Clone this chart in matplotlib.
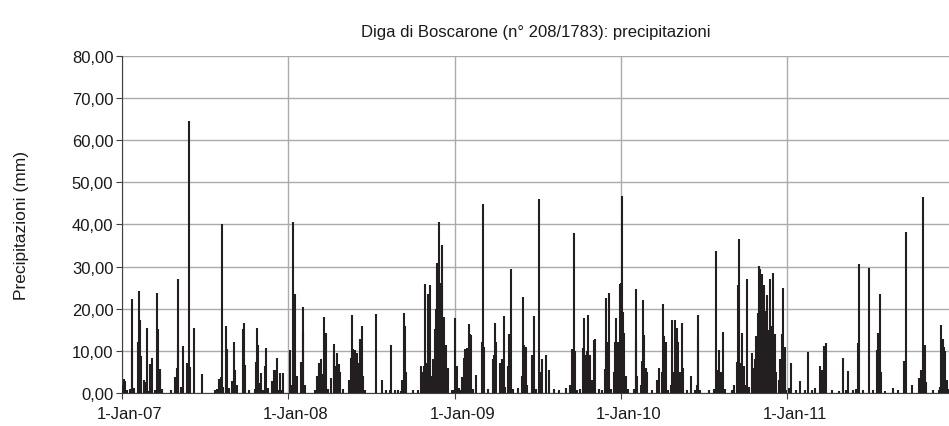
import numpy as np
import pandas as pd
import matplotlib
matplotlib.use("Agg")
import matplotlib.pyplot as plt
import matplotlib.dates as mdates
import matplotlib.transforms as mtransforms
from matplotlib.ticker import FuncFormatter, MultipleLocator

plt.rcParams['font.family'] = ['Liberation Sans', 'DejaVu Sans']

# giorni dal 1-Jan-2007 e precipitazione giornaliera (mm)
giorni_2007 = [2, 6, 8, 12, 18, 22, 23, 28, 35, 38, 40, 42, 48, 50, 52, 55, 58, 63, 66, 72,
               77, 79, 81, 84, 85, 88, 108, 118, 121, 123, 124, 130, 135, 143, 145, 148, 151,
               158, 177, 205, 210, 214, 216, 218, 220, 222, 228, 230, 232, 236, 242, 246, 249,
               252, 266, 267, 269, 271, 280, 292, 295, 297, 299, 303, 306, 310, 315, 317, 321,
               329, 334, 338, 341, 344, 347, 352, 355]
mm_2007 = [1.8, 3.4, 2.8, 0.8, 1.0, 22.4, 10.0, 1.2, 12.0, 24.1, 17.4, 8.8, 0.6, 3.0, 2.6, 15.3,
           0.4, 6.9, 8.3, 0.8, 23.7, 15.1, 5.0, 4.6, 5.7, 1.0, 0.8, 3.7, 6.0, 11.4, 27.0, 1.5,
           11.2, 7.1, 6.5, 64.6, 6.1, 15.3, 4.5, 0.6, 1.0, 3.4, 3.0, 3.7, 40.2, 1.5, 2.5, 15.8,
           10.4, 1.2, 2.8, 12.1, 5.5, 2.0, 1.0, 15.1, 16.5, 6.6, 0.6, 1.0, 7.4, 15.5, 11.4, 2.4,
           4.8, 0.8, 6.5, 10.7, 1.2, 2.8, 5.4, 5.5, 8.2, 0.8, 4.7, 0.8, 4.8]

giorni_2008 = [369, 372, 375, 378, 380, 384, 393, 397, 399, 402, 425, 429, 432, 434, 437, 441,
               444, 446, 448, 452, 460, 465, 467, 469, 472, 476, 480, 485, 500, 503, 505, 508,
               512, 517, 520, 524, 527, 530, 534, 559, 572, 581, 588, 592, 600, 606, 612, 616,
               619, 622, 625, 640, 650, 658, 661, 664, 666, 669, 672, 676, 680, 684, 688, 690,
               692, 694, 696, 698, 700, 702, 704, 706, 708, 711, 716, 724, 728]
mm_2008 = [10.2, 2.0, 40.6, 10.0, 23.4, 4.1, 7.3, 20.3, 14.4, 2.0, 0.8, 4.0, 5.5, 7.0, 8.0, 4.4,
           18.1, 12.1, 14.2, 1.0, 3.5, 9.0, 11.7, 6.5, 9.6, 6.9, 5.0, 1.0, 3.0, 8.2, 18.5, 10.4,
           10.3, 9.5, 7.1, 12.9, 15.9, 4.1, 0.6, 18.7, 3.0, 0.6, 0.8, 11.4, 0.8, 0.6, 0.5, 3.0,
           19.0, 15.8, 4.9, 0.6, 0.8, 6.5, 5.0, 6.5, 25.9, 7.0, 23.4, 25.6, 4.0, 8.0, 15.1, 20.0,
           30.9, 22.0, 40.6, 26.2, 15.0, 35.0, 26.2, 12.0, 18.1, 11.5, 6.0, 0.6, 0.8]

giorni_2009 = [731, 736, 740, 744, 748, 751, 754, 757, 762, 764, 767, 771, 777, 791, 793, 795,
               805, 815, 818, 820, 822, 830, 835, 839, 842, 848, 851, 854, 858, 870, 878, 881,
               883, 887, 890, 900, 906, 910, 915, 918, 922, 932, 938, 950, 960, 975, 985, 989,
               992, 995, 1000, 1005, 1012, 1015, 1018, 1021, 1024, 1027, 1033, 1037, 1040, 1048,
               1055, 1061, 1064, 1066, 1069, 1074, 1080, 1083, 1085, 1087, 1090, 1093]
mm_2009 = [17.7, 6.5, 1.2, 0.8, 3.7, 8.4, 10.4, 10.7, 16.3, 14.0, 13.8, 1.0, 4.3, 12.0, 44.9,
           10.8, 1.0, 8.0, 9.0, 16.7, 12.0, 7.1, 8.0, 18.3, 1.5, 6.5, 13.9, 29.3, 1.0, 1.2, 4.0,
           22.8, 11.4, 11.0, 2.0, 9.1, 18.3, 1.0, 45.9, 5.0, 8.0, 9.0, 5.5, 1.0, 0.8, 1.2, 2.0,
           10.4, 37.9, 10.0, 0.8, 1.0, 10.6, 17.7, 9.0, 10.0, 18.5, 9.0, 3.0, 12.6, 12.8, 1.0,
           0.8, 5.8, 22.6, 12.0, 23.6, 1.0, 5.0, 12.0, 17.9, 10.8, 12.0, 25.8]

giorni_2010 = [1096, 1099, 1101, 1103, 1106, 1112, 1125, 1128, 1130, 1132, 1140, 1143, 1145,
               1147, 1150, 1154, 1165, 1176, 1179, 1185, 1189, 1191, 1194, 1200, 1205, 1208,
               1210, 1214, 1218, 1222, 1226, 1230, 1233, 1240, 1250, 1258, 1262, 1264, 1266,
               1270, 1290, 1300, 1305, 1308, 1311, 1316, 1320, 1324, 1340, 1345, 1350, 1353,
               1356, 1359, 1362, 1365, 1368, 1373, 1376, 1384, 1387, 1390, 1393, 1396, 1399,
               1402, 1406, 1409, 1413, 1417, 1420, 1424, 1427, 1430, 1433, 1436, 1443, 1446,
               1449, 1452, 1455, 1458]
mm_2010 = [26.0, 46.7, 19.3, 14.2, 4.0, 1.0, 1.0, 12.6, 24.6, 4.0, 2.0, 7.5, 22.1, 13.7, 6.0,
           5.0, 0.8, 3.0, 6.0, 5.0, 21.1, 13.6, 12.0, 0.8, 2.0, 17.3, 5.0, 17.3, 15.3, 12.1, 5.0,
           16.7, 6.0, 0.8, 4.1, 0.8, 2.0, 13.4, 18.5, 0.6, 0.8, 1.0, 33.7, 5.5, 10.3, 5.0, 14.4,
           1.0, 0.8, 2.0, 7.3, 25.6, 36.6, 7.0, 14.2, 6.5, 2.0, 27.0, 1.5, 9.5, 6.0, 8.0, 13.6,
           19.0, 30.1, 29.5, 28.3, 25.5, 19.5, 23.3, 15.0, 27.1, 16.0, 28.4, 14.0, 5.0, 3.0, 8.0,
           14.0, 24.9, 11.0, 0.6]

giorni_2011 = [1465, 1470, 1480, 1489, 1500, 1506, 1515, 1522, 1532, 1537, 1541, 1544, 1547,
               1560, 1575, 1583, 1590, 1594, 1605, 1612, 1616, 1619, 1628, 1641, 1650, 1657,
               1660, 1664, 1667, 1675, 1694, 1705, 1718, 1721, 1734, 1750, 1754, 1758, 1759,
               1763, 1765, 1780, 1795, 1797, 1799, 1802, 1805, 1808, 1812, 1815]
mm_2011 = [1.2, 7.0, 0.8, 2.8, 0.8, 9.8, 0.6, 1.2, 6.4, 5.5, 11.2, 0.6, 11.8, 0.8, 0.5, 8.3,
           0.8, 5.3, 0.6, 1.0, 11.8, 30.7, 0.8, 29.7, 0.6, 10.2, 14.2, 23.4, 5.0, 0.5, 1.2, 0.8,
           7.7, 38.2, 2.0, 3.6, 5.4, 3.0, 46.5, 11.4, 2.5, 0.8, 0.6, 1.5, 16.1, 12.9, 11.0, 10.0,
           3.0, 1.0]

giorni = giorni_2007 + giorni_2008 + giorni_2009 + giorni_2010 + giorni_2011
mm = mm_2007 + mm_2008 + mm_2009 + mm_2010 + mm_2011

inizio = pd.Timestamp('2007-01-01')
date = inizio + pd.to_timedelta(giorni, unit='D')

W, H = 949, 427
fig = plt.figure(figsize=(W / 100, H / 100), dpi=100)
ax = fig.add_axes([121.7 / W, 1 - 394 / H, (W - 121.7) / W, (394 - 56.7) / H])

ax.vlines(date, 0, mm, color='#231f20', lw=1.5, zorder=3)

ax.set_xlim(inizio, inizio + pd.Timedelta(days=1816))
ax.set_ylim(0, 80)
ax.yaxis.set_major_locator(MultipleLocator(10))
ax.yaxis.set_major_formatter(FuncFormatter(lambda v, p: f"{v:.2f}".replace('.', ',')))
ax.xaxis.set_major_locator(mdates.YearLocator())
ax.xaxis.set_major_formatter(FuncFormatter(
    lambda v, p: f"{mdates.num2date(v).day}-{mdates.num2date(v):%b-%y}"))

ax.grid(True, color='#ababab', lw=1.0, zorder=0)
ax.set_axisbelow(True)
for s in ['top', 'right']:
    ax.spines[s].set_visible(False)
ax.spines['left'].set_color('#404040')
ax.spines['bottom'].set_color('#404040')
ax.tick_params(axis='both', length=4.5, width=0.8, color='#404040', labelsize=12,
               labelcolor='#1a1a1a')
ax.tick_params(axis='y', pad=1.5)
ax.tick_params(axis='x', pad=5)

# etichette delle date leggermente spostate a destra come nell'originale
sposta = mtransforms.ScaledTranslation(8 / 100, 0, fig.dpi_scale_trans)
for lab in ax.get_xticklabels():
    lab.set_transform(lab.get_transform() + sposta)

ax.set_ylabel('Precipitazioni (mm)', fontsize=12.5, color='#1a1a1a')
ax.yaxis.set_label_coords((29 - 121.7) / (W - 121.7), 0.5)
fig.text((121.7 + W) / 2 / W, 1 - 33 / H, 'Diga di Boscarone (n° 208/1783): precipitazioni',
         ha='center', va='center', fontsize=12, color='#1a1a1a')

fig.savefig('out.png', dpi=100)
